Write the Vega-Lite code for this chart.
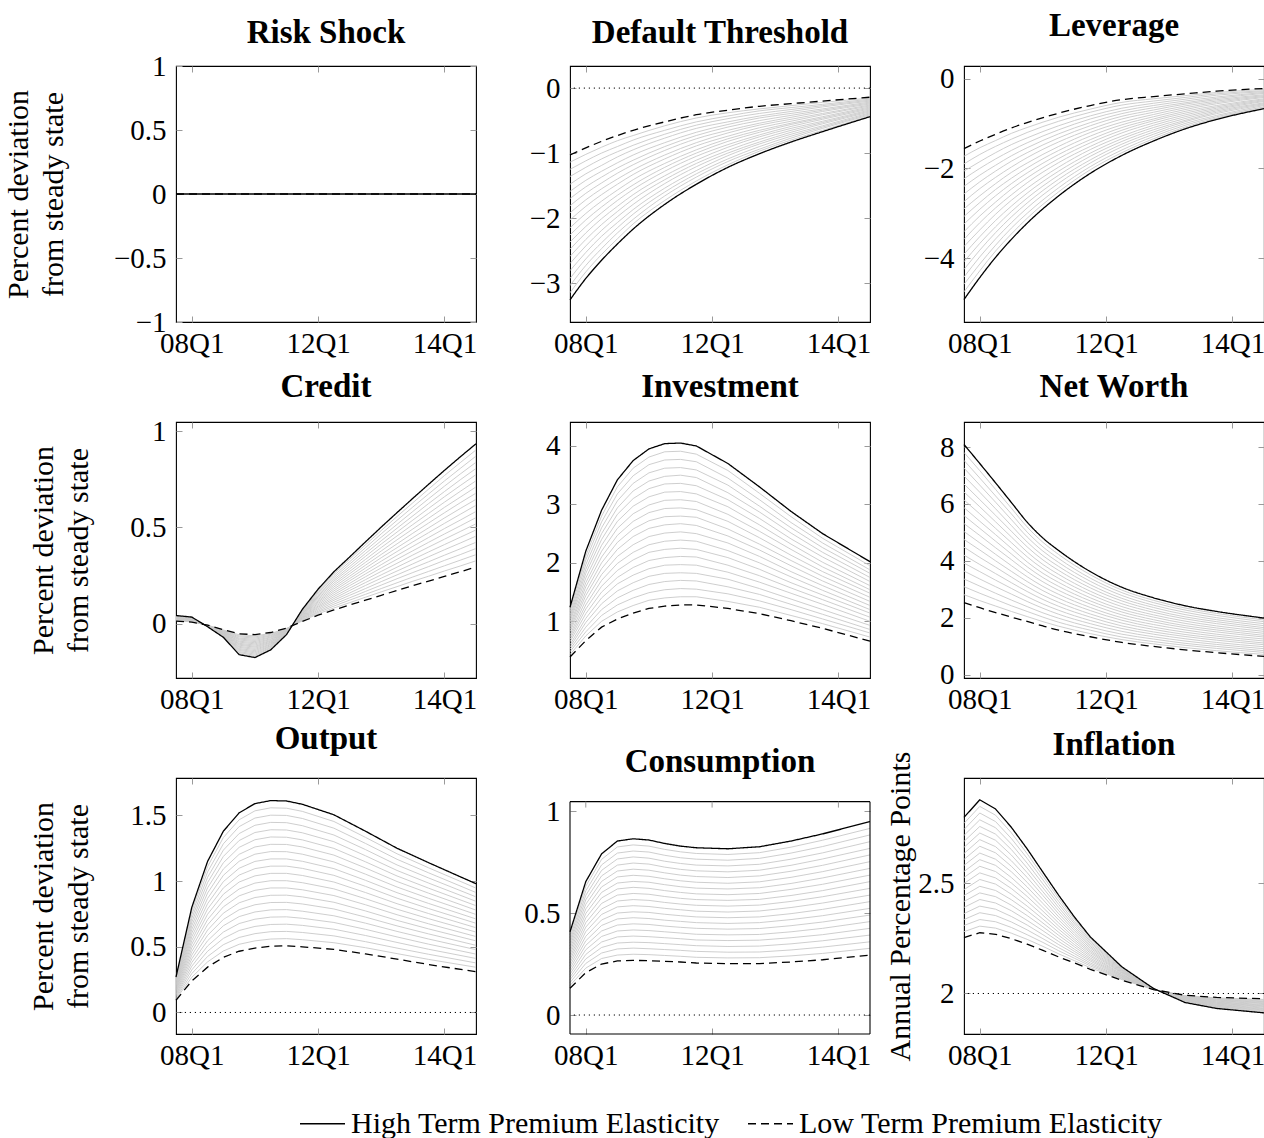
{
"$schema": "https://vega.github.io/schema/vega-lite/v6.json",
"background": "white",
"padding": {"left": 2, "top": 9, "right": 0, "bottom": 0},
"config": {
  "font": "Liberation Serif",
  "view": {"stroke": "#000", "strokeWidth": 1.1},
  "axis": {"grid": false, "domain": false, "ticks": true, "tickSize": -6, "tickColor": "#9a9a9a", "tickWidth": 1, "labelFont": "Liberation Serif", "labelFontSize": 29, "labelColor": "#000", "labelFlush": false, "labelOverlap": false, "titleFont": "Liberation Serif", "titleFontSize": 30, "titleFontWeight": "normal", "titleColor": "#000", "titleLineHeight": 35},
  "axisX": {"labelPadding": 13},
  "axisY": {"labelPadding": 16},
  "title": {"font": "Liberation Serif", "fontSize": 33, "fontWeight": "bold", "color": "#000", "anchor": "middle", "frame": "group"},
  "legend": {"symbolType": "stroke", "symbolSize": 2025, "symbolStrokeWidth": 1.3, "symbolStrokeColor": "#000", "labelFont": "Liberation Serif", "labelFontSize": 30, "labelColor": "#000", "labelLimit": 0, "labelOffset": 5, "columnPadding": 25}
},
"datasets": {
"risk": [{"x":0,"h":0,"l":0},{"x":19,"h":0,"l":0}],
"dt": [
{"x":0,"h":-3.26,"l":-1.03,"g1":-1.14,"g2":-1.25,"g3":-1.36,"g4":-1.48,"g5":-1.59,"g6":-1.70,"g7":-1.81,"g8":-1.92,"g9":-2.03,"g10":-2.15,"g11":-2.26,"g12":-2.37,"g13":-2.48,"g14":-2.59,"g15":-2.70,"g16":-2.81,"g17":-2.93,"g18":-3.04,"g19":-3.15},
{"x":1,"h":-2.93,"l":-0.92,"g1":-1.02,"g2":-1.12,"g3":-1.22,"g4":-1.32,"g5":-1.42,"g6":-1.52,"g7":-1.62,"g8":-1.72,"g9":-1.82,"g10":-1.93,"g11":-2.03,"g12":-2.13,"g13":-2.23,"g14":-2.33,"g15":-2.43,"g16":-2.53,"g17":-2.63,"g18":-2.73,"g19":-2.83},
{"x":2,"h":-2.65,"l":-0.82,"g1":-0.91,"g2":-1.00,"g3":-1.09,"g4":-1.19,"g5":-1.28,"g6":-1.37,"g7":-1.46,"g8":-1.55,"g9":-1.64,"g10":-1.74,"g11":-1.83,"g12":-1.92,"g13":-2.01,"g14":-2.10,"g15":-2.19,"g16":-2.28,"g17":-2.38,"g18":-2.47,"g19":-2.56},
{"x":3,"h":-2.40,"l":-0.73,"g1":-0.81,"g2":-0.90,"g3":-0.98,"g4":-1.06,"g5":-1.15,"g6":-1.23,"g7":-1.31,"g8":-1.40,"g9":-1.48,"g10":-1.57,"g11":-1.65,"g12":-1.73,"g13":-1.82,"g14":-1.90,"g15":-1.98,"g16":-2.07,"g17":-2.15,"g18":-2.23,"g19":-2.32},
{"x":4,"h":-2.17,"l":-0.65,"g1":-0.73,"g2":-0.80,"g3":-0.88,"g4":-0.95,"g5":-1.03,"g6":-1.11,"g7":-1.18,"g8":-1.26,"g9":-1.33,"g10":-1.41,"g11":-1.49,"g12":-1.56,"g13":-1.64,"g14":-1.71,"g15":-1.79,"g16":-1.87,"g17":-1.94,"g18":-2.02,"g19":-2.09},
{"x":6,"h":-1.79,"l":-0.52,"g1":-0.58,"g2":-0.65,"g3":-0.71,"g4":-0.77,"g5":-0.84,"g6":-0.90,"g7":-0.96,"g8":-1.03,"g9":-1.09,"g10":-1.16,"g11":-1.22,"g12":-1.28,"g13":-1.35,"g14":-1.41,"g15":-1.47,"g16":-1.54,"g17":-1.60,"g18":-1.66,"g19":-1.73},
{"x":8,"h":-1.48,"l":-0.41,"g1":-0.46,"g2":-0.52,"g3":-0.57,"g4":-0.62,"g5":-0.68,"g6":-0.73,"g7":-0.78,"g8":-0.84,"g9":-0.89,"g10":-0.95,"g11":-1.00,"g12":-1.05,"g13":-1.11,"g14":-1.16,"g15":-1.21,"g16":-1.27,"g17":-1.32,"g18":-1.37,"g19":-1.43},
{"x":10,"h":-1.22,"l":-0.34,"g1":-0.38,"g2":-0.43,"g3":-0.47,"g4":-0.52,"g5":-0.56,"g6":-0.60,"g7":-0.65,"g8":-0.69,"g9":-0.74,"g10":-0.78,"g11":-0.82,"g12":-0.87,"g13":-0.91,"g14":-0.96,"g15":-1.00,"g16":-1.04,"g17":-1.09,"g18":-1.13,"g19":-1.18},
{"x":12,"h":-1.01,"l":-0.28,"g1":-0.32,"g2":-0.35,"g3":-0.39,"g4":-0.43,"g5":-0.46,"g6":-0.50,"g7":-0.54,"g8":-0.57,"g9":-0.61,"g10":-0.65,"g11":-0.68,"g12":-0.72,"g13":-0.75,"g14":-0.79,"g15":-0.83,"g16":-0.86,"g17":-0.90,"g18":-0.94,"g19":-0.97},
{"x":14,"h":-0.83,"l":-0.24,"g1":-0.27,"g2":-0.30,"g3":-0.33,"g4":-0.36,"g5":-0.39,"g6":-0.42,"g7":-0.45,"g8":-0.48,"g9":-0.51,"g10":-0.54,"g11":-0.56,"g12":-0.59,"g13":-0.62,"g14":-0.65,"g15":-0.68,"g16":-0.71,"g17":-0.74,"g18":-0.77,"g19":-0.80},
{"x":16,"h":-0.67,"l":-0.20,"g1":-0.22,"g2":-0.25,"g3":-0.27,"g4":-0.29,"g5":-0.32,"g6":-0.34,"g7":-0.36,"g8":-0.39,"g9":-0.41,"g10":-0.44,"g11":-0.46,"g12":-0.48,"g13":-0.51,"g14":-0.53,"g15":-0.55,"g16":-0.58,"g17":-0.60,"g18":-0.62,"g19":-0.65},
{"x":19,"h":-0.44,"l":-0.14,"g1":-0.155,"g2":-0.17,"g3":-0.185,"g4":-0.2,"g5":-0.215,"g6":-0.23,"g7":-0.245,"g8":-0.26,"g9":-0.275,"g10":-0.29,"g11":-0.305,"g12":-0.32,"g13":-0.335,"g14":-0.35,"g15":-0.365,"g16":-0.38,"g17":-0.395,"g18":-0.41,"g19":-0.425}
],
"lev": [
{"x":0,"h":-4.92,"l":-1.56,"g1":-1.73,"g2":-1.90,"g3":-2.06,"g4":-2.23,"g5":-2.40,"g6":-2.57,"g7":-2.74,"g8":-2.90,"g9":-3.07,"g10":-3.24,"g11":-3.41,"g12":-3.58,"g13":-3.74,"g14":-3.91,"g15":-4.08,"g16":-4.25,"g17":-4.42,"g18":-4.58,"g19":-4.75},
{"x":1,"h":-4.43,"l":-1.39,"g1":-1.54,"g2":-1.69,"g3":-1.85,"g4":-2.00,"g5":-2.15,"g6":-2.30,"g7":-2.45,"g8":-2.61,"g9":-2.76,"g10":-2.91,"g11":-3.06,"g12":-3.21,"g13":-3.37,"g14":-3.52,"g15":-3.67,"g16":-3.82,"g17":-3.97,"g18":-4.13,"g19":-4.28},
{"x":2,"h":-3.98,"l":-1.24,"g1":-1.38,"g2":-1.51,"g3":-1.65,"g4":-1.79,"g5":-1.93,"g6":-2.06,"g7":-2.20,"g8":-2.34,"g9":-2.47,"g10":-2.61,"g11":-2.75,"g12":-2.88,"g13":-3.02,"g14":-3.16,"g15":-3.30,"g16":-3.43,"g17":-3.57,"g18":-3.71,"g19":-3.84},
{"x":3,"h":-3.58,"l":-1.10,"g1":-1.22,"g2":-1.35,"g3":-1.47,"g4":-1.60,"g5":-1.72,"g6":-1.84,"g7":-1.97,"g8":-2.09,"g9":-2.22,"g10":-2.34,"g11":-2.46,"g12":-2.59,"g13":-2.71,"g14":-2.84,"g15":-2.96,"g16":-3.08,"g17":-3.21,"g18":-3.33,"g19":-3.46},
{"x":4,"h":-3.22,"l":-0.98,"g1":-1.09,"g2":-1.20,"g3":-1.32,"g4":-1.43,"g5":-1.54,"g6":-1.65,"g7":-1.76,"g8":-1.88,"g9":-1.99,"g10":-2.10,"g11":-2.21,"g12":-2.32,"g13":-2.44,"g14":-2.55,"g15":-2.66,"g16":-2.77,"g17":-2.88,"g18":-3.00,"g19":-3.11},
{"x":6,"h":-2.61,"l":-0.77,"g1":-0.86,"g2":-0.95,"g3":-1.05,"g4":-1.14,"g5":-1.23,"g6":-1.32,"g7":-1.41,"g8":-1.51,"g9":-1.60,"g10":-1.69,"g11":-1.78,"g12":-1.87,"g13":-1.97,"g14":-2.06,"g15":-2.15,"g16":-2.24,"g17":-2.33,"g18":-2.43,"g19":-2.52},
{"x":8,"h":-2.11,"l":-0.60,"g1":-0.68,"g2":-0.75,"g3":-0.83,"g4":-0.90,"g5":-0.98,"g6":-1.05,"g7":-1.13,"g8":-1.20,"g9":-1.28,"g10":-1.36,"g11":-1.43,"g12":-1.51,"g13":-1.58,"g14":-1.66,"g15":-1.73,"g16":-1.81,"g17":-1.88,"g18":-1.96,"g19":-2.03},
{"x":10,"h":-1.71,"l":-0.47,"g1":-0.53,"g2":-0.59,"g3":-0.66,"g4":-0.72,"g5":-0.78,"g6":-0.84,"g7":-0.90,"g8":-0.97,"g9":-1.03,"g10":-1.09,"g11":-1.15,"g12":-1.21,"g13":-1.28,"g14":-1.34,"g15":-1.40,"g16":-1.46,"g17":-1.52,"g18":-1.59,"g19":-1.65},
{"x":12,"h":-1.39,"l":-0.40,"g1":-0.45,"g2":-0.50,"g3":-0.55,"g4":-0.60,"g5":-0.65,"g6":-0.70,"g7":-0.75,"g8":-0.80,"g9":-0.85,"g10":-0.90,"g11":-0.94,"g12":-0.99,"g13":-1.04,"g14":-1.09,"g15":-1.14,"g16":-1.19,"g17":-1.24,"g18":-1.29,"g19":-1.34},
{"x":14,"h":-1.12,"l":-0.34,"g1":-0.38,"g2":-0.42,"g3":-0.46,"g4":-0.50,"g5":-0.54,"g6":-0.57,"g7":-0.61,"g8":-0.65,"g9":-0.69,"g10":-0.73,"g11":-0.77,"g12":-0.81,"g13":-0.85,"g14":-0.89,"g15":-0.93,"g16":-0.96,"g17":-1.00,"g18":-1.04,"g19":-1.08},
{"x":16,"h":-0.91,"l":-0.28,"g1":-0.31,"g2":-0.34,"g3":-0.37,"g4":-0.41,"g5":-0.44,"g6":-0.47,"g7":-0.50,"g8":-0.53,"g9":-0.56,"g10":-0.60,"g11":-0.63,"g12":-0.66,"g13":-0.69,"g14":-0.72,"g15":-0.75,"g16":-0.78,"g17":-0.82,"g18":-0.85,"g19":-0.88},
{"x":19,"h":-0.67,"l":-0.22,"g1":-0.24,"g2":-0.27,"g3":-0.29,"g4":-0.31,"g5":-0.33,"g6":-0.36,"g7":-0.38,"g8":-0.40,"g9":-0.42,"g10":-0.45,"g11":-0.47,"g12":-0.49,"g13":-0.51,"g14":-0.54,"g15":-0.56,"g16":-0.58,"g17":-0.60,"g18":-0.63,"g19":-0.65}
],
"cr": [
{"x":0,"h":0.043,"l":0.014,"g1":0.016,"g2":0.017,"g3":0.018,"g4":0.02,"g5":0.021,"g6":0.023,"g7":0.024,"g8":0.026,"g9":0.027,"g10":0.029,"g11":0.03,"g12":0.031,"g13":0.033,"g14":0.034,"g15":0.036,"g16":0.037,"g17":0.039,"g18":0.04,"g19":0.042},
{"x":1,"h":0.035,"l":0.009,"g1":0.01,"g2":0.012,"g3":0.013,"g4":0.014,"g5":0.016,"g6":0.017,"g7":0.018,"g8":0.019,"g9":0.021,"g10":0.022,"g11":0.023,"g12":0.025,"g13":0.026,"g14":0.027,"g15":0.029,"g16":0.03,"g17":0.031,"g18":0.032,"g19":0.034},
{"x":2,"h":-0.015,"l":-0.007,"g1":-0.007,"g2":-0.008,"g3":-0.008,"g4":-0.009,"g5":-0.009,"g6":-0.009,"g7":-0.01,"g8":-0.01,"g9":-0.011,"g10":-0.011,"g11":-0.011,"g12":-0.012,"g13":-0.012,"g14":-0.013,"g15":-0.013,"g16":-0.013,"g17":-0.014,"g18":-0.014,"g19":-0.015},
{"x":3,"h":-0.07,"l":-0.03,"g1":-0.032,"g2":-0.034,"g3":-0.036,"g4":-0.038,"g5":-0.04,"g6":-0.042,"g7":-0.044,"g8":-0.046,"g9":-0.048,"g10":-0.05,"g11":-0.052,"g12":-0.054,"g13":-0.056,"g14":-0.058,"g15":-0.06,"g16":-0.062,"g17":-0.064,"g18":-0.066,"g19":-0.068},
{"x":4,"h":-0.16,"l":-0.052,"g1":-0.057,"g2":-0.063,"g3":-0.068,"g4":-0.074,"g5":-0.079,"g6":-0.084,"g7":-0.09,"g8":-0.095,"g9":-0.101,"g10":-0.106,"g11":-0.111,"g12":-0.117,"g13":-0.122,"g14":-0.128,"g15":-0.133,"g16":-0.138,"g17":-0.144,"g18":-0.149,"g19":-0.155},
{"x":5,"h":-0.175,"l":-0.056,"g1":-0.062,"g2":-0.068,"g3":-0.074,"g4":-0.08,"g5":-0.086,"g6":-0.092,"g7":-0.098,"g8":-0.104,"g9":-0.11,"g10":-0.116,"g11":-0.121,"g12":-0.127,"g13":-0.133,"g14":-0.139,"g15":-0.145,"g16":-0.151,"g17":-0.157,"g18":-0.163,"g19":-0.169},
{"x":6,"h":-0.135,"l":-0.045,"g1":-0.05,"g2":-0.054,"g3":-0.059,"g4":-0.063,"g5":-0.068,"g6":-0.072,"g7":-0.077,"g8":-0.081,"g9":-0.086,"g10":-0.09,"g11":-0.095,"g12":-0.099,"g13":-0.104,"g14":-0.108,"g15":-0.113,"g16":-0.117,"g17":-0.122,"g18":-0.126,"g19":-0.131},
{"x":7,"h":-0.056,"l":-0.022,"g1":-0.024,"g2":-0.025,"g3":-0.027,"g4":-0.029,"g5":-0.031,"g6":-0.032,"g7":-0.034,"g8":-0.036,"g9":-0.037,"g10":-0.039,"g11":-0.041,"g12":-0.042,"g13":-0.044,"g14":-0.046,"g15":-0.048,"g16":-0.049,"g17":-0.051,"g18":-0.053,"g19":-0.054},
{"x":8,"h":0.075,"l":0.012,"g1":0.015,"g2":0.018,"g3":0.021,"g4":0.025,"g5":0.028,"g6":0.031,"g7":0.034,"g8":0.037,"g9":0.04,"g10":0.044,"g11":0.047,"g12":0.05,"g13":0.053,"g14":0.056,"g15":0.059,"g16":0.062,"g17":0.066,"g18":0.069,"g19":0.072},
{"x":9,"h":0.18,"l":0.045,"g1":0.052,"g2":0.059,"g3":0.065,"g4":0.072,"g5":0.079,"g6":0.086,"g7":0.092,"g8":0.099,"g9":0.106,"g10":0.113,"g11":0.119,"g12":0.126,"g13":0.133,"g14":0.14,"g15":0.146,"g16":0.153,"g17":0.16,"g18":0.167,"g19":0.173},
{"x":10,"h":0.27,"l":0.072,"g1":0.082,"g2":0.092,"g3":0.102,"g4":0.112,"g5":0.122,"g6":0.131,"g7":0.141,"g8":0.151,"g9":0.161,"g10":0.171,"g11":0.181,"g12":0.191,"g13":0.201,"g14":0.211,"g15":0.221,"g16":0.23,"g17":0.24,"g18":0.25,"g19":0.26},
{"x":11,"h":0.347,"l":0.098,"g1":0.11,"g2":0.123,"g3":0.135,"g4":0.148,"g5":0.16,"g6":0.173,"g7":0.185,"g8":0.198,"g9":0.21,"g10":0.223,"g11":0.235,"g12":0.247,"g13":0.26,"g14":0.272,"g15":0.285,"g16":0.297,"g17":0.31,"g18":0.322,"g19":0.335},
{"x":12,"h":0.425,"l":0.123,"g1":0.138,"g2":0.153,"g3":0.168,"g4":0.183,"g5":0.199,"g6":0.214,"g7":0.229,"g8":0.244,"g9":0.259,"g10":0.274,"g11":0.289,"g12":0.304,"g13":0.319,"g14":0.334,"g15":0.35,"g16":0.365,"g17":0.38,"g18":0.395,"g19":0.41},
{"x":13,"h":0.502,"l":0.148,"g1":0.166,"g2":0.183,"g3":0.201,"g4":0.219,"g5":0.237,"g6":0.254,"g7":0.272,"g8":0.29,"g9":0.307,"g10":0.325,"g11":0.343,"g12":0.36,"g13":0.378,"g14":0.396,"g15":0.414,"g16":0.431,"g17":0.449,"g18":0.467,"g19":0.484},
{"x":14,"h":0.577,"l":0.173,"g1":0.193,"g2":0.213,"g3":0.234,"g4":0.254,"g5":0.274,"g6":0.294,"g7":0.314,"g8":0.335,"g9":0.355,"g10":0.375,"g11":0.395,"g12":0.415,"g13":0.436,"g14":0.456,"g15":0.476,"g16":0.496,"g17":0.516,"g18":0.537,"g19":0.557},
{"x":15,"h":0.651,"l":0.198,"g1":0.221,"g2":0.243,"g3":0.266,"g4":0.289,"g5":0.311,"g6":0.334,"g7":0.357,"g8":0.379,"g9":0.402,"g10":0.425,"g11":0.447,"g12":0.47,"g13":0.492,"g14":0.515,"g15":0.538,"g16":0.56,"g17":0.583,"g18":0.606,"g19":0.628},
{"x":16,"h":0.724,"l":0.222,"g1":0.247,"g2":0.272,"g3":0.297,"g4":0.322,"g5":0.348,"g6":0.373,"g7":0.398,"g8":0.423,"g9":0.448,"g10":0.473,"g11":0.498,"g12":0.523,"g13":0.548,"g14":0.573,"g15":0.599,"g16":0.624,"g17":0.649,"g18":0.674,"g19":0.699},
{"x":17,"h":0.796,"l":0.246,"g1":0.274,"g2":0.301,"g3":0.329,"g4":0.356,"g5":0.384,"g6":0.411,"g7":0.439,"g8":0.466,"g9":0.494,"g10":0.521,"g11":0.549,"g12":0.576,"g13":0.604,"g14":0.631,"g15":0.659,"g16":0.686,"g17":0.714,"g18":0.741,"g19":0.769},
{"x":18,"h":0.866,"l":0.27,"g1":0.3,"g2":0.33,"g3":0.359,"g4":0.389,"g5":0.419,"g6":0.449,"g7":0.479,"g8":0.508,"g9":0.538,"g10":0.568,"g11":0.598,"g12":0.628,"g13":0.657,"g14":0.687,"g15":0.717,"g16":0.747,"g17":0.777,"g18":0.806,"g19":0.836},
{"x":19,"h":0.934,"l":0.295,"g1":0.327,"g2":0.359,"g3":0.391,"g4":0.423,"g5":0.455,"g6":0.487,"g7":0.519,"g8":0.551,"g9":0.583,"g10":0.615,"g11":0.646,"g12":0.678,"g13":0.71,"g14":0.742,"g15":0.774,"g16":0.806,"g17":0.838,"g18":0.87,"g19":0.902}
],
"inv": [
{"x":0,"h":1.24,"l":0.39,"g1":0.43,"g2":0.48,"g3":0.52,"g4":0.56,"g5":0.6,"g6":0.65,"g7":0.69,"g8":0.73,"g9":0.77,"g10":0.82,"g11":0.86,"g12":0.9,"g13":0.94,"g14":0.99,"g15":1.03,"g16":1.07,"g17":1.11,"g18":1.16,"g19":1.2},
{"x":1,"h":2.2,"l":0.67,"g1":0.75,"g2":0.82,"g3":0.9,"g4":0.98,"g5":1.05,"g6":1.13,"g7":1.21,"g8":1.28,"g9":1.36,"g10":1.44,"g11":1.51,"g12":1.59,"g13":1.66,"g14":1.74,"g15":1.82,"g16":1.89,"g17":1.97,"g18":2.05,"g19":2.12},
{"x":2,"h":2.9,"l":0.9,"g1":1.0,"g2":1.1,"g3":1.2,"g4":1.3,"g5":1.4,"g6":1.5,"g7":1.6,"g8":1.7,"g9":1.8,"g10":1.9,"g11":2.0,"g12":2.1,"g13":2.2,"g14":2.3,"g15":2.4,"g16":2.5,"g17":2.6,"g18":2.7,"g19":2.8},
{"x":3,"h":3.42,"l":1.04,"g1":1.16,"g2":1.28,"g3":1.4,"g4":1.52,"g5":1.64,"g6":1.75,"g7":1.87,"g8":1.99,"g9":2.11,"g10":2.23,"g11":2.35,"g12":2.47,"g13":2.59,"g14":2.71,"g15":2.83,"g16":2.94,"g17":3.06,"g18":3.18,"g19":3.3},
{"x":4,"h":3.75,"l":1.14,"g1":1.27,"g2":1.4,"g3":1.53,"g4":1.66,"g5":1.79,"g6":1.92,"g7":2.05,"g8":2.18,"g9":2.31,"g10":2.45,"g11":2.58,"g12":2.71,"g13":2.84,"g14":2.97,"g15":3.1,"g16":3.23,"g17":3.36,"g18":3.49,"g19":3.62},
{"x":5,"h":3.95,"l":1.22,"g1":1.36,"g2":1.49,"g3":1.63,"g4":1.77,"g5":1.9,"g6":2.04,"g7":2.18,"g8":2.31,"g9":2.45,"g10":2.59,"g11":2.72,"g12":2.86,"g13":2.99,"g14":3.13,"g15":3.27,"g16":3.4,"g17":3.54,"g18":3.68,"g19":3.81},
{"x":6,"h":4.04,"l":1.26,"g1":1.4,"g2":1.54,"g3":1.68,"g4":1.82,"g5":1.96,"g6":2.09,"g7":2.23,"g8":2.37,"g9":2.51,"g10":2.65,"g11":2.79,"g12":2.93,"g13":3.07,"g14":3.21,"g15":3.35,"g16":3.48,"g17":3.62,"g18":3.76,"g19":3.9},
{"x":7,"h":4.05,"l":1.28,"g1":1.42,"g2":1.56,"g3":1.7,"g4":1.83,"g5":1.97,"g6":2.11,"g7":2.25,"g8":2.39,"g9":2.53,"g10":2.67,"g11":2.8,"g12":2.94,"g13":3.08,"g14":3.22,"g15":3.36,"g16":3.5,"g17":3.63,"g18":3.77,"g19":3.91},
{"x":8,"h":4.0,"l":1.28,"g1":1.42,"g2":1.55,"g3":1.69,"g4":1.82,"g5":1.96,"g6":2.1,"g7":2.23,"g8":2.37,"g9":2.5,"g10":2.64,"g11":2.78,"g12":2.91,"g13":3.05,"g14":3.18,"g15":3.32,"g16":3.46,"g17":3.59,"g18":3.73,"g19":3.86},
{"x":10,"h":3.7,"l":1.22,"g1":1.34,"g2":1.47,"g3":1.59,"g4":1.72,"g5":1.84,"g6":1.96,"g7":2.09,"g8":2.21,"g9":2.34,"g10":2.46,"g11":2.58,"g12":2.71,"g13":2.83,"g14":2.96,"g15":3.08,"g16":3.2,"g17":3.33,"g18":3.45,"g19":3.58},
{"x":12,"h":3.3,"l":1.13,"g1":1.24,"g2":1.35,"g3":1.46,"g4":1.56,"g5":1.67,"g6":1.78,"g7":1.89,"g8":2.0,"g9":2.11,"g10":2.22,"g11":2.32,"g12":2.43,"g13":2.54,"g14":2.65,"g15":2.76,"g16":2.87,"g17":2.97,"g18":3.08,"g19":3.19},
{"x":14,"h":2.88,"l":1.01,"g1":1.1,"g2":1.2,"g3":1.29,"g4":1.38,"g5":1.48,"g6":1.57,"g7":1.66,"g8":1.76,"g9":1.85,"g10":1.95,"g11":2.04,"g12":2.13,"g13":2.23,"g14":2.32,"g15":2.41,"g16":2.51,"g17":2.6,"g18":2.69,"g19":2.79},
{"x":16,"h":2.5,"l":0.88,"g1":0.96,"g2":1.04,"g3":1.12,"g4":1.2,"g5":1.29,"g6":1.37,"g7":1.45,"g8":1.53,"g9":1.61,"g10":1.69,"g11":1.77,"g12":1.85,"g13":1.93,"g14":2.01,"g15":2.1,"g16":2.18,"g17":2.26,"g18":2.34,"g19":2.42},
{"x":19,"h":2.02,"l":0.66,"g1":0.73,"g2":0.8,"g3":0.86,"g4":0.93,"g5":1.0,"g6":1.07,"g7":1.14,"g8":1.2,"g9":1.27,"g10":1.34,"g11":1.41,"g12":1.48,"g13":1.54,"g14":1.61,"g15":1.68,"g16":1.75,"g17":1.82,"g18":1.88,"g19":1.95}
],
"nw": [
{"x":0,"h":8.09,"l":2.53,"g1":2.81,"g2":3.09,"g3":3.36,"g4":3.64,"g5":3.92,"g6":4.2,"g7":4.48,"g8":4.75,"g9":5.03,"g10":5.31,"g11":5.59,"g12":5.87,"g13":6.14,"g14":6.42,"g15":6.7,"g16":6.98,"g17":7.26,"g18":7.53,"g19":7.81},
{"x":1,"h":7.42,"l":2.35,"g1":2.6,"g2":2.86,"g3":3.11,"g4":3.36,"g5":3.62,"g6":3.87,"g7":4.12,"g8":4.38,"g9":4.63,"g10":4.89,"g11":5.14,"g12":5.39,"g13":5.65,"g14":5.9,"g15":6.15,"g16":6.41,"g17":6.66,"g18":6.91,"g19":7.17},
{"x":2,"h":6.74,"l":2.18,"g1":2.41,"g2":2.64,"g3":2.86,"g4":3.09,"g5":3.32,"g6":3.55,"g7":3.78,"g8":4.0,"g9":4.23,"g10":4.46,"g11":4.69,"g12":4.92,"g13":5.14,"g14":5.37,"g15":5.6,"g16":5.83,"g17":6.06,"g18":6.28,"g19":6.51},
{"x":3,"h":6.05,"l":2.02,"g1":2.22,"g2":2.42,"g3":2.62,"g4":2.83,"g5":3.03,"g6":3.23,"g7":3.43,"g8":3.63,"g9":3.83,"g10":4.04,"g11":4.24,"g12":4.44,"g13":4.64,"g14":4.84,"g15":5.04,"g16":5.24,"g17":5.45,"g18":5.65,"g19":5.85},
{"x":4,"h":5.36,"l":1.87,"g1":2.04,"g2":2.22,"g3":2.39,"g4":2.57,"g5":2.74,"g6":2.92,"g7":3.09,"g8":3.27,"g9":3.44,"g10":3.62,"g11":3.79,"g12":3.96,"g13":4.14,"g14":4.31,"g15":4.49,"g16":4.66,"g17":4.84,"g18":5.01,"g19":5.19},
{"x":5,"h":4.8,"l":1.71,"g1":1.86,"g2":2.02,"g3":2.17,"g4":2.33,"g5":2.48,"g6":2.64,"g7":2.79,"g8":2.95,"g9":3.1,"g10":3.26,"g11":3.41,"g12":3.56,"g13":3.72,"g14":3.87,"g15":4.03,"g16":4.18,"g17":4.34,"g18":4.49,"g19":4.65},
{"x":6,"h":4.36,"l":1.56,"g1":1.7,"g2":1.84,"g3":1.98,"g4":2.12,"g5":2.26,"g6":2.4,"g7":2.54,"g8":2.68,"g9":2.82,"g10":2.96,"g11":3.1,"g12":3.24,"g13":3.38,"g14":3.52,"g15":3.66,"g16":3.8,"g17":3.94,"g18":4.08,"g19":4.22},
{"x":8,"h":3.62,"l":1.33,"g1":1.44,"g2":1.56,"g3":1.67,"g4":1.79,"g5":1.9,"g6":2.02,"g7":2.13,"g8":2.25,"g9":2.36,"g10":2.48,"g11":2.59,"g12":2.7,"g13":2.82,"g14":2.93,"g15":3.05,"g16":3.16,"g17":3.28,"g18":3.39,"g19":3.51},
{"x":10,"h":3.07,"l":1.13,"g1":1.23,"g2":1.32,"g3":1.42,"g4":1.52,"g5":1.62,"g6":1.71,"g7":1.81,"g8":1.91,"g9":2.0,"g10":2.1,"g11":2.2,"g12":2.29,"g13":2.39,"g14":2.49,"g15":2.59,"g16":2.68,"g17":2.78,"g18":2.88,"g19":2.97},
{"x":12,"h":2.7,"l":0.99,"g1":1.08,"g2":1.16,"g3":1.25,"g4":1.33,"g5":1.42,"g6":1.5,"g7":1.59,"g8":1.67,"g9":1.76,"g10":1.85,"g11":1.93,"g12":2.02,"g13":2.1,"g14":2.19,"g15":2.27,"g16":2.36,"g17":2.44,"g18":2.53,"g19":2.61},
{"x":14,"h":2.42,"l":0.87,"g1":0.95,"g2":1.03,"g3":1.1,"g4":1.18,"g5":1.26,"g6":1.34,"g7":1.41,"g8":1.49,"g9":1.57,"g10":1.65,"g11":1.72,"g12":1.8,"g13":1.88,"g14":1.96,"g15":2.03,"g16":2.11,"g17":2.19,"g18":2.27,"g19":2.34},
{"x":16,"h":2.22,"l":0.77,"g1":0.84,"g2":0.92,"g3":0.99,"g4":1.06,"g5":1.13,"g6":1.21,"g7":1.28,"g8":1.35,"g9":1.42,"g10":1.5,"g11":1.57,"g12":1.64,"g13":1.71,"g14":1.79,"g15":1.86,"g16":1.93,"g17":2.0,"g18":2.08,"g19":2.15},
{"x":19,"h":1.99,"l":0.64,"g1":0.71,"g2":0.78,"g3":0.84,"g4":0.91,"g5":0.98,"g6":1.05,"g7":1.11,"g8":1.18,"g9":1.25,"g10":1.32,"g11":1.38,"g12":1.45,"g13":1.52,"g14":1.59,"g15":1.65,"g16":1.72,"g17":1.79,"g18":1.86,"g19":1.92}
],
"out": [
{"x":0,"h":0.27,"l":0.093,"g1":0.102,"g2":0.111,"g3":0.12,"g4":0.128,"g5":0.137,"g6":0.146,"g7":0.155,"g8":0.164,"g9":0.173,"g10":0.182,"g11":0.19,"g12":0.199,"g13":0.208,"g14":0.217,"g15":0.226,"g16":0.235,"g17":0.243,"g18":0.252,"g19":0.261},
{"x":1,"h":0.8,"l":0.24,"g1":0.268,"g2":0.296,"g3":0.324,"g4":0.352,"g5":0.38,"g6":0.408,"g7":0.436,"g8":0.464,"g9":0.492,"g10":0.52,"g11":0.548,"g12":0.576,"g13":0.604,"g14":0.632,"g15":0.66,"g16":0.688,"g17":0.716,"g18":0.744,"g19":0.772},
{"x":2,"h":1.15,"l":0.345,"g1":0.385,"g2":0.426,"g3":0.466,"g4":0.506,"g5":0.546,"g6":0.587,"g7":0.627,"g8":0.667,"g9":0.707,"g10":0.748,"g11":0.788,"g12":0.828,"g13":0.868,"g14":0.909,"g15":0.949,"g16":0.989,"g17":1.029,"g18":1.07,"g19":1.11},
{"x":3,"h":1.38,"l":0.42,"g1":0.468,"g2":0.516,"g3":0.564,"g4":0.612,"g5":0.66,"g6":0.708,"g7":0.756,"g8":0.804,"g9":0.852,"g10":0.9,"g11":0.948,"g12":0.996,"g13":1.044,"g14":1.092,"g15":1.14,"g16":1.188,"g17":1.236,"g18":1.284,"g19":1.332},
{"x":4,"h":1.52,"l":0.466,"g1":0.519,"g2":0.571,"g3":0.624,"g4":0.677,"g5":0.73,"g6":0.782,"g7":0.835,"g8":0.888,"g9":0.94,"g10":0.993,"g11":1.046,"g12":1.098,"g13":1.151,"g14":1.204,"g15":1.257,"g16":1.309,"g17":1.362,"g18":1.415,"g19":1.467},
{"x":5,"h":1.59,"l":0.49,"g1":0.545,"g2":0.6,"g3":0.655,"g4":0.71,"g5":0.765,"g6":0.82,"g7":0.875,"g8":0.93,"g9":0.985,"g10":1.04,"g11":1.095,"g12":1.15,"g13":1.205,"g14":1.26,"g15":1.315,"g16":1.37,"g17":1.425,"g18":1.48,"g19":1.535},
{"x":6,"h":1.613,"l":0.504,"g1":0.559,"g2":0.615,"g3":0.67,"g4":0.726,"g5":0.781,"g6":0.837,"g7":0.892,"g8":0.948,"g9":1.003,"g10":1.059,"g11":1.114,"g12":1.169,"g13":1.225,"g14":1.28,"g15":1.336,"g16":1.391,"g17":1.447,"g18":1.502,"g19":1.558},
{"x":7,"h":1.61,"l":0.507,"g1":0.562,"g2":0.617,"g3":0.672,"g4":0.728,"g5":0.783,"g6":0.838,"g7":0.893,"g8":0.948,"g9":1.003,"g10":1.059,"g11":1.114,"g12":1.169,"g13":1.224,"g14":1.279,"g15":1.334,"g16":1.389,"g17":1.445,"g18":1.5,"g19":1.555},
{"x":8,"h":1.585,"l":0.5,"g1":0.554,"g2":0.609,"g3":0.663,"g4":0.717,"g5":0.771,"g6":0.826,"g7":0.88,"g8":0.934,"g9":0.988,"g10":1.043,"g11":1.097,"g12":1.151,"g13":1.205,"g14":1.26,"g15":1.314,"g16":1.368,"g17":1.422,"g18":1.477,"g19":1.531},
{"x":10,"h":1.505,"l":0.48,"g1":0.531,"g2":0.583,"g3":0.634,"g4":0.685,"g5":0.736,"g6":0.788,"g7":0.839,"g8":0.89,"g9":0.941,"g10":0.993,"g11":1.044,"g12":1.095,"g13":1.146,"g14":1.198,"g15":1.249,"g16":1.3,"g17":1.351,"g18":1.403,"g19":1.454},
{"x":12,"h":1.38,"l":0.446,"g1":0.493,"g2":0.539,"g3":0.586,"g4":0.633,"g5":0.68,"g6":0.726,"g7":0.773,"g8":0.82,"g9":0.866,"g10":0.913,"g11":0.96,"g12":1.006,"g13":1.053,"g14":1.1,"g15":1.147,"g16":1.193,"g17":1.24,"g18":1.287,"g19":1.333},
{"x":14,"h":1.25,"l":0.406,"g1":0.448,"g2":0.49,"g3":0.533,"g4":0.575,"g5":0.617,"g6":0.659,"g7":0.701,"g8":0.744,"g9":0.786,"g10":0.828,"g11":0.87,"g12":0.912,"g13":0.955,"g14":0.997,"g15":1.039,"g16":1.081,"g17":1.123,"g18":1.166,"g19":1.208},
{"x":16,"h":1.14,"l":0.365,"g1":0.404,"g2":0.443,"g3":0.481,"g4":0.52,"g5":0.559,"g6":0.598,"g7":0.636,"g8":0.675,"g9":0.714,"g10":0.753,"g11":0.791,"g12":0.83,"g13":0.869,"g14":0.908,"g15":0.946,"g16":0.985,"g17":1.024,"g18":1.063,"g19":1.101},
{"x":19,"h":0.98,"l":0.31,"g1":0.344,"g2":0.377,"g3":0.411,"g4":0.444,"g5":0.478,"g6":0.511,"g7":0.545,"g8":0.578,"g9":0.612,"g10":0.645,"g11":0.679,"g12":0.712,"g13":0.746,"g14":0.779,"g15":0.813,"g16":0.846,"g17":0.88,"g18":0.913,"g19":0.947}
],
"con": [
{"x":0,"h":0.408,"l":0.131,"g1":0.145,"g2":0.159,"g3":0.173,"g4":0.186,"g5":0.2,"g6":0.214,"g7":0.228,"g8":0.242,"g9":0.256,"g10":0.27,"g11":0.283,"g12":0.297,"g13":0.311,"g14":0.325,"g15":0.339,"g16":0.353,"g17":0.366,"g18":0.38,"g19":0.394},
{"x":1,"h":0.654,"l":0.208,"g1":0.23,"g2":0.253,"g3":0.275,"g4":0.297,"g5":0.32,"g6":0.342,"g7":0.364,"g8":0.386,"g9":0.409,"g10":0.431,"g11":0.453,"g12":0.476,"g13":0.498,"g14":0.52,"g15":0.543,"g16":0.565,"g17":0.587,"g18":0.609,"g19":0.632},
{"x":2,"h":0.79,"l":0.25,"g1":0.277,"g2":0.304,"g3":0.331,"g4":0.358,"g5":0.385,"g6":0.412,"g7":0.439,"g8":0.466,"g9":0.493,"g10":0.52,"g11":0.547,"g12":0.574,"g13":0.601,"g14":0.628,"g15":0.655,"g16":0.682,"g17":0.709,"g18":0.736,"g19":0.763},
{"x":3,"h":0.853,"l":0.265,"g1":0.294,"g2":0.324,"g3":0.353,"g4":0.383,"g5":0.412,"g6":0.441,"g7":0.471,"g8":0.5,"g9":0.53,"g10":0.559,"g11":0.588,"g12":0.618,"g13":0.647,"g14":0.677,"g15":0.706,"g16":0.735,"g17":0.765,"g18":0.794,"g19":0.824},
{"x":4,"h":0.864,"l":0.268,"g1":0.298,"g2":0.328,"g3":0.357,"g4":0.387,"g5":0.417,"g6":0.447,"g7":0.477,"g8":0.506,"g9":0.536,"g10":0.566,"g11":0.596,"g12":0.626,"g13":0.655,"g14":0.685,"g15":0.715,"g16":0.745,"g17":0.775,"g18":0.804,"g19":0.834},
{"x":5,"h":0.858,"l":0.266,"g1":0.296,"g2":0.325,"g3":0.355,"g4":0.384,"g5":0.414,"g6":0.444,"g7":0.473,"g8":0.503,"g9":0.532,"g10":0.562,"g11":0.592,"g12":0.621,"g13":0.651,"g14":0.68,"g15":0.71,"g16":0.74,"g17":0.769,"g18":0.799,"g19":0.828},
{"x":6,"h":0.841,"l":0.263,"g1":0.292,"g2":0.321,"g3":0.35,"g4":0.379,"g5":0.408,"g6":0.436,"g7":0.465,"g8":0.494,"g9":0.523,"g10":0.552,"g11":0.581,"g12":0.61,"g13":0.639,"g14":0.668,"g15":0.697,"g16":0.725,"g17":0.754,"g18":0.783,"g19":0.812},
{"x":7,"h":0.828,"l":0.26,"g1":0.288,"g2":0.317,"g3":0.345,"g4":0.374,"g5":0.402,"g6":0.43,"g7":0.459,"g8":0.487,"g9":0.516,"g10":0.544,"g11":0.572,"g12":0.601,"g13":0.629,"g14":0.658,"g15":0.686,"g16":0.714,"g17":0.743,"g18":0.771,"g19":0.8},
{"x":8,"h":0.82,"l":0.255,"g1":0.283,"g2":0.312,"g3":0.34,"g4":0.368,"g5":0.396,"g6":0.425,"g7":0.453,"g8":0.481,"g9":0.509,"g10":0.538,"g11":0.566,"g12":0.594,"g13":0.622,"g14":0.651,"g15":0.679,"g16":0.707,"g17":0.735,"g18":0.764,"g19":0.792},
{"x":10,"h":0.815,"l":0.252,"g1":0.28,"g2":0.308,"g3":0.336,"g4":0.365,"g5":0.393,"g6":0.421,"g7":0.449,"g8":0.477,"g9":0.505,"g10":0.534,"g11":0.562,"g12":0.59,"g13":0.618,"g14":0.646,"g15":0.674,"g16":0.702,"g17":0.731,"g18":0.759,"g19":0.787},
{"x":12,"h":0.825,"l":0.252,"g1":0.281,"g2":0.309,"g3":0.338,"g4":0.367,"g5":0.395,"g6":0.424,"g7":0.453,"g8":0.481,"g9":0.51,"g10":0.539,"g11":0.567,"g12":0.596,"g13":0.624,"g14":0.653,"g15":0.682,"g16":0.71,"g17":0.739,"g18":0.768,"g19":0.796},
{"x":14,"h":0.853,"l":0.26,"g1":0.29,"g2":0.319,"g3":0.349,"g4":0.379,"g5":0.408,"g6":0.438,"g7":0.468,"g8":0.497,"g9":0.527,"g10":0.557,"g11":0.586,"g12":0.616,"g13":0.645,"g14":0.675,"g15":0.705,"g16":0.734,"g17":0.764,"g18":0.794,"g19":0.823},
{"x":16,"h":0.888,"l":0.271,"g1":0.302,"g2":0.333,"g3":0.364,"g4":0.394,"g5":0.425,"g6":0.456,"g7":0.487,"g8":0.518,"g9":0.549,"g10":0.58,"g11":0.61,"g12":0.641,"g13":0.672,"g14":0.703,"g15":0.734,"g16":0.765,"g17":0.795,"g18":0.826,"g19":0.857},
{"x":19,"h":0.948,"l":0.294,"g1":0.327,"g2":0.359,"g3":0.392,"g4":0.425,"g5":0.458,"g6":0.49,"g7":0.523,"g8":0.556,"g9":0.588,"g10":0.621,"g11":0.654,"g12":0.686,"g13":0.719,"g14":0.752,"g15":0.785,"g16":0.817,"g17":0.85,"g18":0.883,"g19":0.915}
],
"inf": [
{"x":0,"h":2.8,"l":2.254,"g1":2.281,"g2":2.309,"g3":2.336,"g4":2.363,"g5":2.391,"g6":2.418,"g7":2.445,"g8":2.472,"g9":2.5,"g10":2.527,"g11":2.554,"g12":2.582,"g13":2.609,"g14":2.636,"g15":2.664,"g16":2.691,"g17":2.718,"g18":2.745,"g19":2.773},
{"x":1,"h":2.88,"l":2.276,"g1":2.306,"g2":2.336,"g3":2.367,"g4":2.397,"g5":2.427,"g6":2.457,"g7":2.487,"g8":2.518,"g9":2.548,"g10":2.578,"g11":2.608,"g12":2.638,"g13":2.669,"g14":2.699,"g15":2.729,"g16":2.759,"g17":2.789,"g18":2.82,"g19":2.85},
{"x":2,"h":2.838,"l":2.269,"g1":2.297,"g2":2.326,"g3":2.354,"g4":2.383,"g5":2.411,"g6":2.44,"g7":2.468,"g8":2.497,"g9":2.525,"g10":2.554,"g11":2.582,"g12":2.61,"g13":2.639,"g14":2.667,"g15":2.696,"g16":2.724,"g17":2.753,"g18":2.781,"g19":2.81},
{"x":3,"h":2.755,"l":2.249,"g1":2.274,"g2":2.3,"g3":2.325,"g4":2.35,"g5":2.376,"g6":2.401,"g7":2.426,"g8":2.451,"g9":2.477,"g10":2.502,"g11":2.527,"g12":2.553,"g13":2.578,"g14":2.603,"g15":2.629,"g16":2.654,"g17":2.679,"g18":2.704,"g19":2.73},
{"x":4,"h":2.657,"l":2.224,"g1":2.246,"g2":2.267,"g3":2.289,"g4":2.311,"g5":2.332,"g6":2.354,"g7":2.376,"g8":2.397,"g9":2.419,"g10":2.441,"g11":2.462,"g12":2.484,"g13":2.505,"g14":2.527,"g15":2.549,"g16":2.57,"g17":2.592,"g18":2.614,"g19":2.635},
{"x":5,"h":2.551,"l":2.196,"g1":2.214,"g2":2.232,"g3":2.249,"g4":2.267,"g5":2.285,"g6":2.303,"g7":2.32,"g8":2.338,"g9":2.356,"g10":2.374,"g11":2.391,"g12":2.409,"g13":2.427,"g14":2.445,"g15":2.462,"g16":2.48,"g17":2.498,"g18":2.516,"g19":2.533},
{"x":6,"h":2.446,"l":2.166,"g1":2.18,"g2":2.194,"g3":2.208,"g4":2.222,"g5":2.236,"g6":2.25,"g7":2.264,"g8":2.278,"g9":2.292,"g10":2.306,"g11":2.32,"g12":2.334,"g13":2.348,"g14":2.362,"g15":2.376,"g16":2.39,"g17":2.404,"g18":2.418,"g19":2.432},
{"x":7,"h":2.347,"l":2.139,"g1":2.149,"g2":2.16,"g3":2.17,"g4":2.181,"g5":2.191,"g6":2.201,"g7":2.212,"g8":2.222,"g9":2.233,"g10":2.243,"g11":2.253,"g12":2.264,"g13":2.274,"g14":2.285,"g15":2.295,"g16":2.305,"g17":2.316,"g18":2.326,"g19":2.337},
{"x":8,"h":2.257,"l":2.11,"g1":2.117,"g2":2.125,"g3":2.132,"g4":2.139,"g5":2.147,"g6":2.154,"g7":2.161,"g8":2.169,"g9":2.176,"g10":2.184,"g11":2.191,"g12":2.198,"g13":2.206,"g14":2.213,"g15":2.22,"g16":2.228,"g17":2.235,"g18":2.242,"g19":2.25},
{"x":10,"h":2.121,"l":2.06,"g1":2.063,"g2":2.066,"g3":2.069,"g4":2.072,"g5":2.075,"g6":2.078,"g7":2.081,"g8":2.084,"g9":2.087,"g10":2.091,"g11":2.094,"g12":2.097,"g13":2.1,"g14":2.103,"g15":2.106,"g16":2.109,"g17":2.112,"g18":2.115,"g19":2.118},
{"x":12,"h":2.023,"l":2.018,"g1":2.018,"g2":2.019,"g3":2.019,"g4":2.019,"g5":2.019,"g6":2.02,"g7":2.02,"g8":2.02,"g9":2.02,"g10":2.021,"g11":2.021,"g12":2.021,"g13":2.021,"g14":2.022,"g15":2.022,"g16":2.022,"g17":2.022,"g18":2.023,"g19":2.023},
{"x":14,"h":1.959,"l":1.992,"g1":1.99,"g2":1.989,"g3":1.987,"g4":1.985,"g5":1.984,"g6":1.982,"g7":1.98,"g8":1.979,"g9":1.977,"g10":1.976,"g11":1.974,"g12":1.972,"g13":1.971,"g14":1.969,"g15":1.967,"g16":1.966,"g17":1.964,"g18":1.962,"g19":1.961},
{"x":16,"h":1.932,"l":1.982,"g1":1.98,"g2":1.977,"g3":1.975,"g4":1.972,"g5":1.97,"g6":1.967,"g7":1.965,"g8":1.962,"g9":1.96,"g10":1.957,"g11":1.955,"g12":1.952,"g13":1.95,"g14":1.947,"g15":1.945,"g16":1.942,"g17":1.94,"g18":1.937,"g19":1.935},
{"x":19,"h":1.912,"l":1.976,"g1":1.973,"g2":1.97,"g3":1.966,"g4":1.963,"g5":1.96,"g6":1.957,"g7":1.954,"g8":1.95,"g9":1.947,"g10":1.944,"g11":1.941,"g12":1.938,"g13":1.934,"g14":1.931,"g15":1.928,"g16":1.925,"g17":1.922,"g18":1.918,"g19":1.915}
]
},
"concat": [
{"width":300,"height":256,"title":{"text":"Risk Shock","offset":2},"data":{"name":"risk"},
 "layer":[
  {"transform":[{"fold":["g1","g2","g3","g4","g5","g6","g7","g8","g9","g10","g11","g12","g13","g14","g15","g16","g17","g18","g19"],"as":["s","v"]}],
   "mark":{"type":"line","color":"#c8c8c8","strokeWidth":0.9},
   "encoding":{"x":{"field":"x","type":"quantitative","scale":{"domain":[0,19],"nice":false,"zero":false},"axis":{"orient":"bottom","values":[1,9,17],"labelExpr":"datum.value == 1 ? '08Q1' : datum.value == 9 ? '12Q1' : '14Q1'","title":null}},
    "y":{"field":"v","type":"quantitative","scale":{"domain":[-1,1],"nice":false,"zero":false},"axis":{"orient":"left","values":[-1,-0.5,0,0.5,1],"format":"~g","title":["Percent deviation","from steady state"],"titlePadding":45}},
    "detail":{"field":"s","type":"nominal"}}},
  {"transform":[{"fold":["h","l"],"as":["s","v"]}],
   "mark":{"type":"line","color":"#000","strokeWidth":1.3},
   "encoding":{"x":{"field":"x","type":"quantitative","axis":{"orient":"top","values":[1,9,17],"labels":false,"title":null}},
    "y":{"field":"v","type":"quantitative","axis":{"orient":"right","values":[-1,-0.5,0,0.5,1],"labels":false,"title":null}},
    "strokeDash":{"field":"s","type":"nominal","scale":{"domain":["h","l"],"range":[[1,0],[8,5]]},"legend":{"title":null,"orient":"none","legendX":123,"legendY":1034,"direction":"horizontal","labelExpr":"datum.label == 'h' ? 'High Term Premium Elasticity' : 'Low Term Premium Elasticity'"}}}}
 ],
 "resolve":{"axis":{"x":"independent","y":"independent"}}},
{"width":300,"height":256,"title":{"text":"Default Threshold","offset":16},"data":{"name":"dt"},
 "layer":[
  {"transform":[{"fold":["g1","g2","g3","g4","g5","g6","g7","g8","g9","g10","g11","g12","g13","g14","g15","g16","g17","g18","g19"],"as":["s","v"]}],
   "mark":{"type":"line","color":"#c8c8c8","strokeWidth":0.9,"interpolate":"monotone"},
   "encoding":{"x":{"field":"x","type":"quantitative","scale":{"domain":[0,19],"nice":false,"zero":false},"axis":{"orient":"bottom","values":[1,9,17],"labelExpr":"datum.value == 1 ? '08Q1' : datum.value == 9 ? '12Q1' : '14Q1'","title":null}},
    "y":{"field":"v","type":"quantitative","scale":{"domain":[-3.6,0.34],"nice":false,"zero":false},"axis":{"orient":"left","values":[-3,-2,-1,0],"format":"~g","title":null}},
    "detail":{"field":"s","type":"nominal"}}},
  {"data":{"values":[{"r":0}]},"mark":{"type":"rule","color":"#000","strokeWidth":1,"strokeDash":[1.2,3.8]},"encoding":{"y":{"field":"r","type":"quantitative","axis":null}}},
  {"transform":[{"fold":["h","l"],"as":["s","v"]}],
   "mark":{"type":"line","color":"#000","strokeWidth":1.3,"interpolate":"monotone"},
   "encoding":{"x":{"field":"x","type":"quantitative","axis":{"orient":"top","values":[1,9,17],"labels":false,"title":null}},
    "y":{"field":"v","type":"quantitative","axis":{"orient":"right","values":[-3,-2,-1,0],"labels":false,"title":null}},
    "strokeDash":{"field":"s","type":"nominal","scale":{"domain":["h","l"],"range":[[1,0],[8,5]]},"legend":{"title":null,"orient":"none","legendX":123,"legendY":1034,"direction":"horizontal","labelExpr":"datum.label == 'h' ? 'High Term Premium Elasticity' : 'Low Term Premium Elasticity'"}}}}
 ],
 "resolve":{"axis":{"x":"independent","y":"independent"}}},
{"width":300,"height":256,"title":{"text":"Leverage","offset":22},"data":{"name":"lev"},
 "layer":[
  {"transform":[{"fold":["g1","g2","g3","g4","g5","g6","g7","g8","g9","g10","g11","g12","g13","g14","g15","g16","g17","g18","g19"],"as":["s","v"]}],
   "mark":{"type":"line","color":"#c8c8c8","strokeWidth":0.9,"interpolate":"monotone"},
   "encoding":{"x":{"field":"x","type":"quantitative","scale":{"domain":[0,19],"nice":false,"zero":false},"axis":{"orient":"bottom","values":[1,9,17],"labelExpr":"datum.value == 1 ? '08Q1' : datum.value == 9 ? '12Q1' : '14Q1'","title":null}},
    "y":{"field":"v","type":"quantitative","scale":{"domain":[-5.42,0.28],"nice":false,"zero":false},"axis":{"orient":"left","values":[-4,-2,0],"format":"~g","title":null}},
    "detail":{"field":"s","type":"nominal"}}},
  {"transform":[{"fold":["h","l"],"as":["s","v"]}],
   "mark":{"type":"line","color":"#000","strokeWidth":1.3,"interpolate":"monotone"},
   "encoding":{"x":{"field":"x","type":"quantitative","axis":{"orient":"top","values":[1,9,17],"labels":false,"title":null}},
    "y":{"field":"v","type":"quantitative","axis":{"orient":"right","values":[-4,-2,0],"labels":false,"title":null}},
    "strokeDash":{"field":"s","type":"nominal","scale":{"domain":["h","l"],"range":[[1,0],[8,5]]},"legend":{"title":null,"orient":"none","legendX":123,"legendY":1034,"direction":"horizontal","labelExpr":"datum.label == 'h' ? 'High Term Premium Elasticity' : 'Low Term Premium Elasticity'"}}}}
 ],
 "resolve":{"axis":{"x":"independent","y":"independent"}}},
{"width":300,"height":256,"title":{"text":"Credit","offset":13},"data":{"name":"cr"},
 "layer":[
  {"transform":[{"fold":["g1","g2","g3","g4","g5","g6","g7","g8","g9","g10","g11","g12","g13","g14","g15","g16","g17","g18","g19"],"as":["s","v"]}],
   "mark":{"type":"line","color":"#c8c8c8","strokeWidth":0.9},
   "encoding":{"x":{"field":"x","type":"quantitative","scale":{"domain":[0,19],"nice":false,"zero":false},"axis":{"orient":"bottom","values":[1,9,17],"labelExpr":"datum.value == 1 ? '08Q1' : datum.value == 9 ? '12Q1' : '14Q1'","title":null}},
    "y":{"field":"v","type":"quantitative","scale":{"domain":[-0.281,1.047],"nice":false,"zero":false},"axis":{"orient":"left","values":[0,0.5,1],"format":"~g","title":["Percent deviation","from steady state"],"titlePadding":36}},
    "detail":{"field":"s","type":"nominal"}}},
  {"transform":[{"fold":["h","l"],"as":["s","v"]}],
   "mark":{"type":"line","color":"#000","strokeWidth":1.3},
   "encoding":{"x":{"field":"x","type":"quantitative","axis":{"orient":"top","values":[1,9,17],"labels":false,"title":null}},
    "y":{"field":"v","type":"quantitative","axis":{"orient":"right","values":[0,0.5,1],"labels":false,"title":null}},
    "strokeDash":{"field":"s","type":"nominal","scale":{"domain":["h","l"],"range":[[1,0],[8,5]]},"legend":{"title":null,"orient":"none","legendX":123,"legendY":1034,"direction":"horizontal","labelExpr":"datum.label == 'h' ? 'High Term Premium Elasticity' : 'Low Term Premium Elasticity'"}}}}
 ],
 "resolve":{"axis":{"x":"independent","y":"independent"}}},
{"width":300,"height":256,"title":{"text":"Investment","offset":18},"data":{"name":"inv"},
 "layer":[
  {"transform":[{"fold":["g1","g2","g3","g4","g5","g6","g7","g8","g9","g10","g11","g12","g13","g14","g15","g16","g17","g18","g19"],"as":["s","v"]}],
   "mark":{"type":"line","color":"#c8c8c8","strokeWidth":0.9},
   "encoding":{"x":{"field":"x","type":"quantitative","scale":{"domain":[0,19],"nice":false,"zero":false},"axis":{"orient":"bottom","values":[1,9,17],"labelExpr":"datum.value == 1 ? '08Q1' : datum.value == 9 ? '12Q1' : '14Q1'","title":null}},
    "y":{"field":"v","type":"quantitative","scale":{"domain":[0.03,4.41],"nice":false,"zero":false},"axis":{"orient":"left","values":[1,2,3,4],"format":"~g","title":null}},
    "detail":{"field":"s","type":"nominal"}}},
  {"transform":[{"fold":["h","l"],"as":["s","v"]}],
   "mark":{"type":"line","color":"#000","strokeWidth":1.3},
   "encoding":{"x":{"field":"x","type":"quantitative","axis":{"orient":"top","values":[1,9,17],"labels":false,"title":null}},
    "y":{"field":"v","type":"quantitative","axis":{"orient":"right","values":[1,2,3,4],"labels":false,"title":null}},
    "strokeDash":{"field":"s","type":"nominal","scale":{"domain":["h","l"],"range":[[1,0],[8,5]]},"legend":{"title":null,"orient":"none","legendX":123,"legendY":1034,"direction":"horizontal","labelExpr":"datum.label == 'h' ? 'High Term Premium Elasticity' : 'Low Term Premium Elasticity'"}}}}
 ],
 "resolve":{"axis":{"x":"independent","y":"independent"}}},
{"width":300,"height":256,"title":{"text":"Net Worth","offset":18},"data":{"name":"nw"},
 "layer":[
  {"transform":[{"fold":["g1","g2","g3","g4","g5","g6","g7","g8","g9","g10","g11","g12","g13","g14","g15","g16","g17","g18","g19"],"as":["s","v"]}],
   "mark":{"type":"line","color":"#c8c8c8","strokeWidth":0.9,"interpolate":"monotone"},
   "encoding":{"x":{"field":"x","type":"quantitative","scale":{"domain":[0,19],"nice":false,"zero":false},"axis":{"orient":"bottom","values":[1,9,17],"labelExpr":"datum.value == 1 ? '08Q1' : datum.value == 9 ? '12Q1' : '14Q1'","title":null}},
    "y":{"field":"v","type":"quantitative","scale":{"domain":[-0.12,8.88],"nice":false,"zero":false},"axis":{"orient":"left","values":[0,2,4,6,8],"format":"~g","title":null}},
    "detail":{"field":"s","type":"nominal"}}},
  {"transform":[{"fold":["h","l"],"as":["s","v"]}],
   "mark":{"type":"line","color":"#000","strokeWidth":1.3,"interpolate":"monotone"},
   "encoding":{"x":{"field":"x","type":"quantitative","axis":{"orient":"top","values":[1,9,17],"labels":false,"title":null}},
    "y":{"field":"v","type":"quantitative","axis":{"orient":"right","values":[0,2,4,6,8],"labels":false,"title":null}},
    "strokeDash":{"field":"s","type":"nominal","scale":{"domain":["h","l"],"range":[[1,0],[8,5]]},"legend":{"title":null,"orient":"none","legendX":123,"legendY":1034,"direction":"horizontal","labelExpr":"datum.label == 'h' ? 'High Term Premium Elasticity' : 'Low Term Premium Elasticity'"}}}}
 ],
 "resolve":{"axis":{"x":"independent","y":"independent"}}},
{"width":300,"height":256,"title":{"text":"Output","offset":22},"data":{"name":"out"},
 "layer":[
  {"transform":[{"fold":["g1","g2","g3","g4","g5","g6","g7","g8","g9","g10","g11","g12","g13","g14","g15","g16","g17","g18","g19"],"as":["s","v"]}],
   "mark":{"type":"line","color":"#c8c8c8","strokeWidth":0.9},
   "encoding":{"x":{"field":"x","type":"quantitative","scale":{"domain":[0,19],"nice":false,"zero":false},"axis":{"orient":"bottom","values":[1,9,17],"labelExpr":"datum.value == 1 ? '08Q1' : datum.value == 9 ? '12Q1' : '14Q1'","title":null}},
    "y":{"field":"v","type":"quantitative","scale":{"domain":[-0.164,1.785],"nice":false,"zero":false},"axis":{"orient":"left","values":[0,0.5,1,1.5],"format":"~g","title":["Percent deviation","from steady state"],"titlePadding":36}},
    "detail":{"field":"s","type":"nominal"}}},
  {"data":{"values":[{"r":0}]},"mark":{"type":"rule","color":"#000","strokeWidth":1,"strokeDash":[1.2,3.8]},"encoding":{"y":{"field":"r","type":"quantitative","axis":null}}},
  {"transform":[{"fold":["h","l"],"as":["s","v"]}],
   "mark":{"type":"line","color":"#000","strokeWidth":1.3},
   "encoding":{"x":{"field":"x","type":"quantitative","axis":{"orient":"top","values":[1,9,17],"labels":false,"title":null}},
    "y":{"field":"v","type":"quantitative","axis":{"orient":"right","values":[0,0.5,1,1.5],"labels":false,"title":null}},
    "strokeDash":{"field":"s","type":"nominal","scale":{"domain":["h","l"],"range":[[1,0],[8,5]]},"legend":{"title":null,"orient":"none","legendX":123,"legendY":1034,"direction":"horizontal","labelExpr":"datum.label == 'h' ? 'High Term Premium Elasticity' : 'Low Term Premium Elasticity'"}}}}
 ],
 "resolve":{"axis":{"x":"independent","y":"independent"}}},
{"width":300,"height":256,"title":{"text":"Consumption","offset":-1},"data":{"name":"con"},"view":{"stroke":null},
 "layer":[
  {"transform":[{"fold":["g1","g2","g3","g4","g5","g6","g7","g8","g9","g10","g11","g12","g13","g14","g15","g16","g17","g18","g19"],"as":["s","v"]}],
   "mark":{"type":"line","color":"#c8c8c8","strokeWidth":0.9},
   "encoding":{"x":{"field":"x","type":"quantitative","scale":{"domain":[0,19],"nice":false,"zero":false},"axis":{"orient":"bottom","values":[1,9,17],"labelExpr":"datum.value == 1 ? '08Q1' : datum.value == 9 ? '12Q1' : '14Q1'","title":null}},
    "y":{"field":"v","type":"quantitative","scale":{"domain":[-0.093,1.162],"nice":false,"zero":false},"axis":{"orient":"left","values":[0,0.5,1],"format":"~g","title":null}},
    "detail":{"field":"s","type":"nominal"}}},
  {"data":{"values":[{"r":0}]},"mark":{"type":"rule","color":"#000","strokeWidth":1,"strokeDash":[1.2,3.8]},"encoding":{"y":{"field":"r","type":"quantitative","axis":null}}},
  {"data":{"values":[{}]},"mark":{"type":"rule","color":"#000","strokeWidth":1.1},"encoding":{"y":{"datum":1.046,"type":"quantitative","axis":null}}},
  {"data":{"values":[{}]},"mark":{"type":"rule","color":"#000","strokeWidth":1.1},"encoding":{"y":{"datum":-0.093,"type":"quantitative","axis":null}}},
  {"data":{"values":[{}]},"mark":{"type":"rule","color":"#000","strokeWidth":1.1},"encoding":{"x":{"datum":0,"type":"quantitative","axis":null},"y":{"datum":-0.093,"type":"quantitative","axis":null},"y2":{"datum":1.046}}},
  {"data":{"values":[{}]},"mark":{"type":"rule","color":"#000","strokeWidth":1.1},"encoding":{"x":{"datum":19,"type":"quantitative","axis":null},"y":{"datum":-0.093,"type":"quantitative","axis":null},"y2":{"datum":1.046}}},
  {"data":{"values":[{}]},"mark":{"type":"rule","color":"#9a9a9a","strokeWidth":1},"encoding":{"x":{"datum":1,"type":"quantitative","axis":null},"y":{"datum":1.046,"type":"quantitative","axis":null},"y2":{"datum":1.017}}},
  {"data":{"values":[{}]},"mark":{"type":"rule","color":"#9a9a9a","strokeWidth":1},"encoding":{"x":{"datum":9,"type":"quantitative","axis":null},"y":{"datum":1.046,"type":"quantitative","axis":null},"y2":{"datum":1.017}}},
  {"data":{"values":[{}]},"mark":{"type":"rule","color":"#9a9a9a","strokeWidth":1},"encoding":{"x":{"datum":17,"type":"quantitative","axis":null},"y":{"datum":1.046,"type":"quantitative","axis":null},"y2":{"datum":1.017}}},
  {"transform":[{"fold":["h","l"],"as":["s","v"]}],
   "mark":{"type":"line","color":"#000","strokeWidth":1.3},
   "encoding":{"x":{"field":"x","type":"quantitative","axis":null},
    "y":{"field":"v","type":"quantitative","axis":{"orient":"right","values":[0,0.5,1],"labels":false,"title":null}},
    "strokeDash":{"field":"s","type":"nominal","scale":{"domain":["h","l"],"range":[[1,0],[8,5]]},"legend":{"title":null,"orient":"none","legendX":123,"legendY":1034,"direction":"horizontal","labelExpr":"datum.label == 'h' ? 'High Term Premium Elasticity' : 'Low Term Premium Elasticity'"}}}}
 ],
 "resolve":{"axis":{"x":"independent","y":"independent"}}},
{"width":300,"height":256,"title":{"text":"Inflation","offset":-11},"data":{"name":"inf"},
 "layer":[
  {"transform":[{"fold":["g1","g2","g3","g4","g5","g6","g7","g8","g9","g10","g11","g12","g13","g14","g15","g16","g17","g18","g19"],"as":["s","v"]}],
   "mark":{"type":"line","color":"#c8c8c8","strokeWidth":0.9},
   "encoding":{"x":{"field":"x","type":"quantitative","scale":{"domain":[0,19],"nice":false,"zero":false},"axis":{"orient":"bottom","values":[1,9,17],"labelExpr":"datum.value == 1 ? '08Q1' : datum.value == 9 ? '12Q1' : '14Q1'","title":null}},
    "y":{"field":"v","type":"quantitative","scale":{"domain":[1.816,2.979],"nice":false,"zero":false},"axis":{"orient":"left","values":[2,2.5],"format":"~g","title":"Annual Percentage Points","titlePadding":2}},
    "detail":{"field":"s","type":"nominal"}}},
  {"data":{"values":[{"r":2}]},"mark":{"type":"rule","color":"#000","strokeWidth":1,"strokeDash":[1.2,3.8]},"encoding":{"y":{"field":"r","type":"quantitative","axis":null}}},
  {"transform":[{"fold":["h","l"],"as":["s","v"]}],
   "mark":{"type":"line","color":"#000","strokeWidth":1.3},
   "encoding":{"x":{"field":"x","type":"quantitative","axis":{"orient":"top","values":[1,9,17],"labels":false,"title":null}},
    "y":{"field":"v","type":"quantitative","axis":{"orient":"right","values":[2,2.5],"labels":false,"title":null}},
    "strokeDash":{"field":"s","type":"nominal","scale":{"domain":["h","l"],"range":[[1,0],[8,5]]},"legend":{"title":null,"orient":"none","legendX":123,"legendY":1034,"direction":"horizontal","labelExpr":"datum.label == 'h' ? 'High Term Premium Elasticity' : 'Low Term Premium Elasticity'"}}}}
 ],
 "resolve":{"axis":{"x":"independent","y":"independent"}}}
],
"columns": 3,
"spacing": {"row": 100, "column": 94},
"bounds": "flush"
}
